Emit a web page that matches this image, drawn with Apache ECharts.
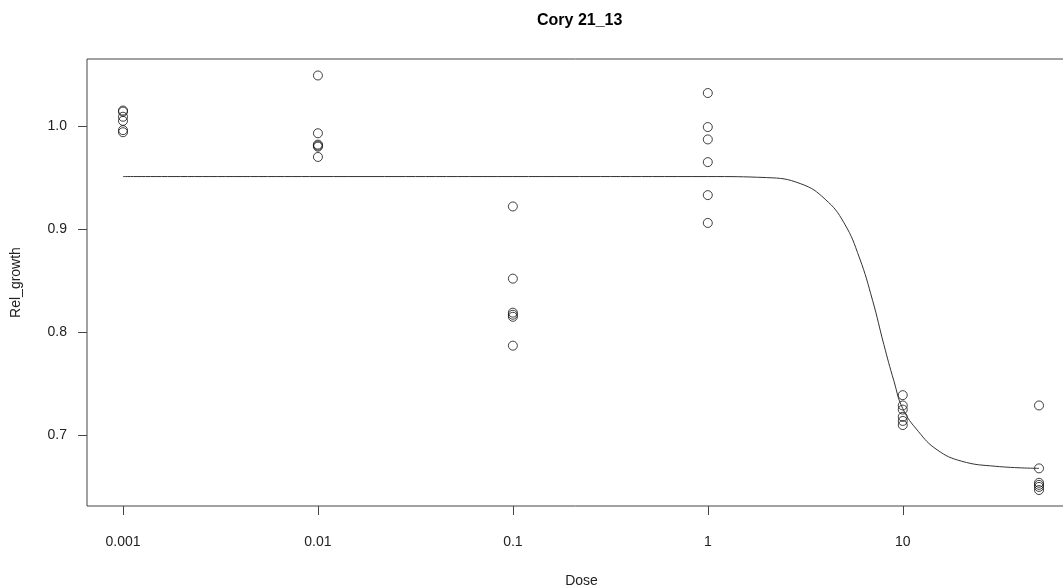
<!DOCTYPE html>
<html>
<head>
<meta charset="utf-8">
<script src="https://cdn.jsdelivr.net/npm/echarts@6/dist/echarts.min.js"></script>
<style>
  html, body { margin: 0; padding: 0; background: #fff; }
  #chart { width: 1063px; height: 585px; }
</style>
</head>
<body>
<div id="chart"></div>
<script>
const doseLevels = [0.001, 0.01, 0.1, 1, 10, 50];
const growthAt0001 = [1.015, 1.014, 1.009, 1.005, 0.996, 0.994];
const growthAt001 = [1.049, 0.993, 0.982, 0.980, 0.981, 0.970];
const growthAt01 = [0.922, 0.852, 0.819, 0.817, 0.815, 0.787];
const growthAt1 = [1.032, 0.999, 0.987, 0.965, 0.933, 0.906];
const growthAt10 = [0.739, 0.729, 0.725, 0.718, 0.714, 0.710];
const growthAt50 = [0.729, 0.668, 0.654, 0.652, 0.650, 0.647];

// fitted dose-response curve, read at a few doses
const fitDose = [0.001, 0.01, 0.1, 1, 2, 3, 4, 5, 6, 7, 8, 9, 10, 12, 15, 20, 30, 50];
const fitGrowth = [0.951, 0.951, 0.951, 0.951, 0.950, 0.944, 0.929, 0.906, 0.872, 0.831, 0.788, 0.753, 0.726, 0.704, 0.686, 0.675, 0.670, 0.668];

const xTicks = [0.001, 0.01, 0.1, 1, 10];
const yTicks = [0.7, 0.8, 0.9, 1.0];

const font = 'Liberation Sans, Arial, Helvetica, sans-serif';

const groups = [growthAt0001, growthAt001, growthAt01, growthAt1, growthAt10, growthAt50];
let points = [];
groups.forEach(function(g, i) {
    g.forEach(function(v) { points.push([doseLevels[i], v]); });
});
const curve = fitDose.map(function(d, i) { return [d, fitGrowth[i]]; });

const chart = echarts.init(document.getElementById('chart'));
chart.setOption({
    animation: false,
    backgroundColor: '#fff',
    title: {
        text: 'Cory 21_13',
        left: 532,
        top: 8,
        textStyle: { fontFamily: font, fontSize: 16, fontWeight: 'bold', color: '#000' }
    },
    grid: {
        left: 87, top: 59, right: -13, bottom: 79,
        outerBoundsMode: 'none',
        containLabel: false,
        show: true, borderColor: '#444', borderWidth: 1
    },
    xAxis: {
        type: 'log',
        logBase: 10,
        min: 0.001 / Math.pow(10, 36 / 195),
        max: 50 * Math.pow(10, 37 / 195),
        name: 'Dose',
        nameLocation: 'middle',
        nameGap: 68,
        nameTextStyle: { fontFamily: font, fontSize: 14, color: '#222' },
        axisLine: { show: false },
        splitLine: { show: false },
        axisTick: { show: true, length: 9, lineStyle: { color: '#444' }, customValues: xTicks },
        axisLabel: {
            fontFamily: font, fontSize: 14, color: '#222', margin: 29,
            customValues: xTicks,
            formatter: function(v) { return String(+(+v).toPrecision(3)); }
        }
    },
    yAxis: {
        type: 'value',
        min: 0.6315,
        max: 1.065,
        name: 'Rel_growth',
        nameLocation: 'middle',
        nameGap: 64,
        nameTextStyle: { fontFamily: font, fontSize: 14, color: '#222' },
        axisLine: { show: false },
        splitLine: { show: false },
        axisTick: { show: true, length: 9, lineStyle: { color: '#444' }, customValues: yTicks },
        axisLabel: {
            fontFamily: font, fontSize: 14, color: '#222', margin: 20,
            customValues: yTicks,
            formatter: function(v) { return (+v).toFixed(1); }
        }
    },
    series: [
        {
            type: 'line',
            data: curve,
            showSymbol: false,
            smooth: 0.45,
            lineStyle: { color: '#333', width: 1 }
        },
        {
            type: 'scatter',
            data: points,
            symbol: 'circle',
            symbolSize: 9,
            itemStyle: { color: 'rgba(0,0,0,0)', borderColor: '#111', borderWidth: 1 }
        }
    ]
});
</script>
</body>
</html>
